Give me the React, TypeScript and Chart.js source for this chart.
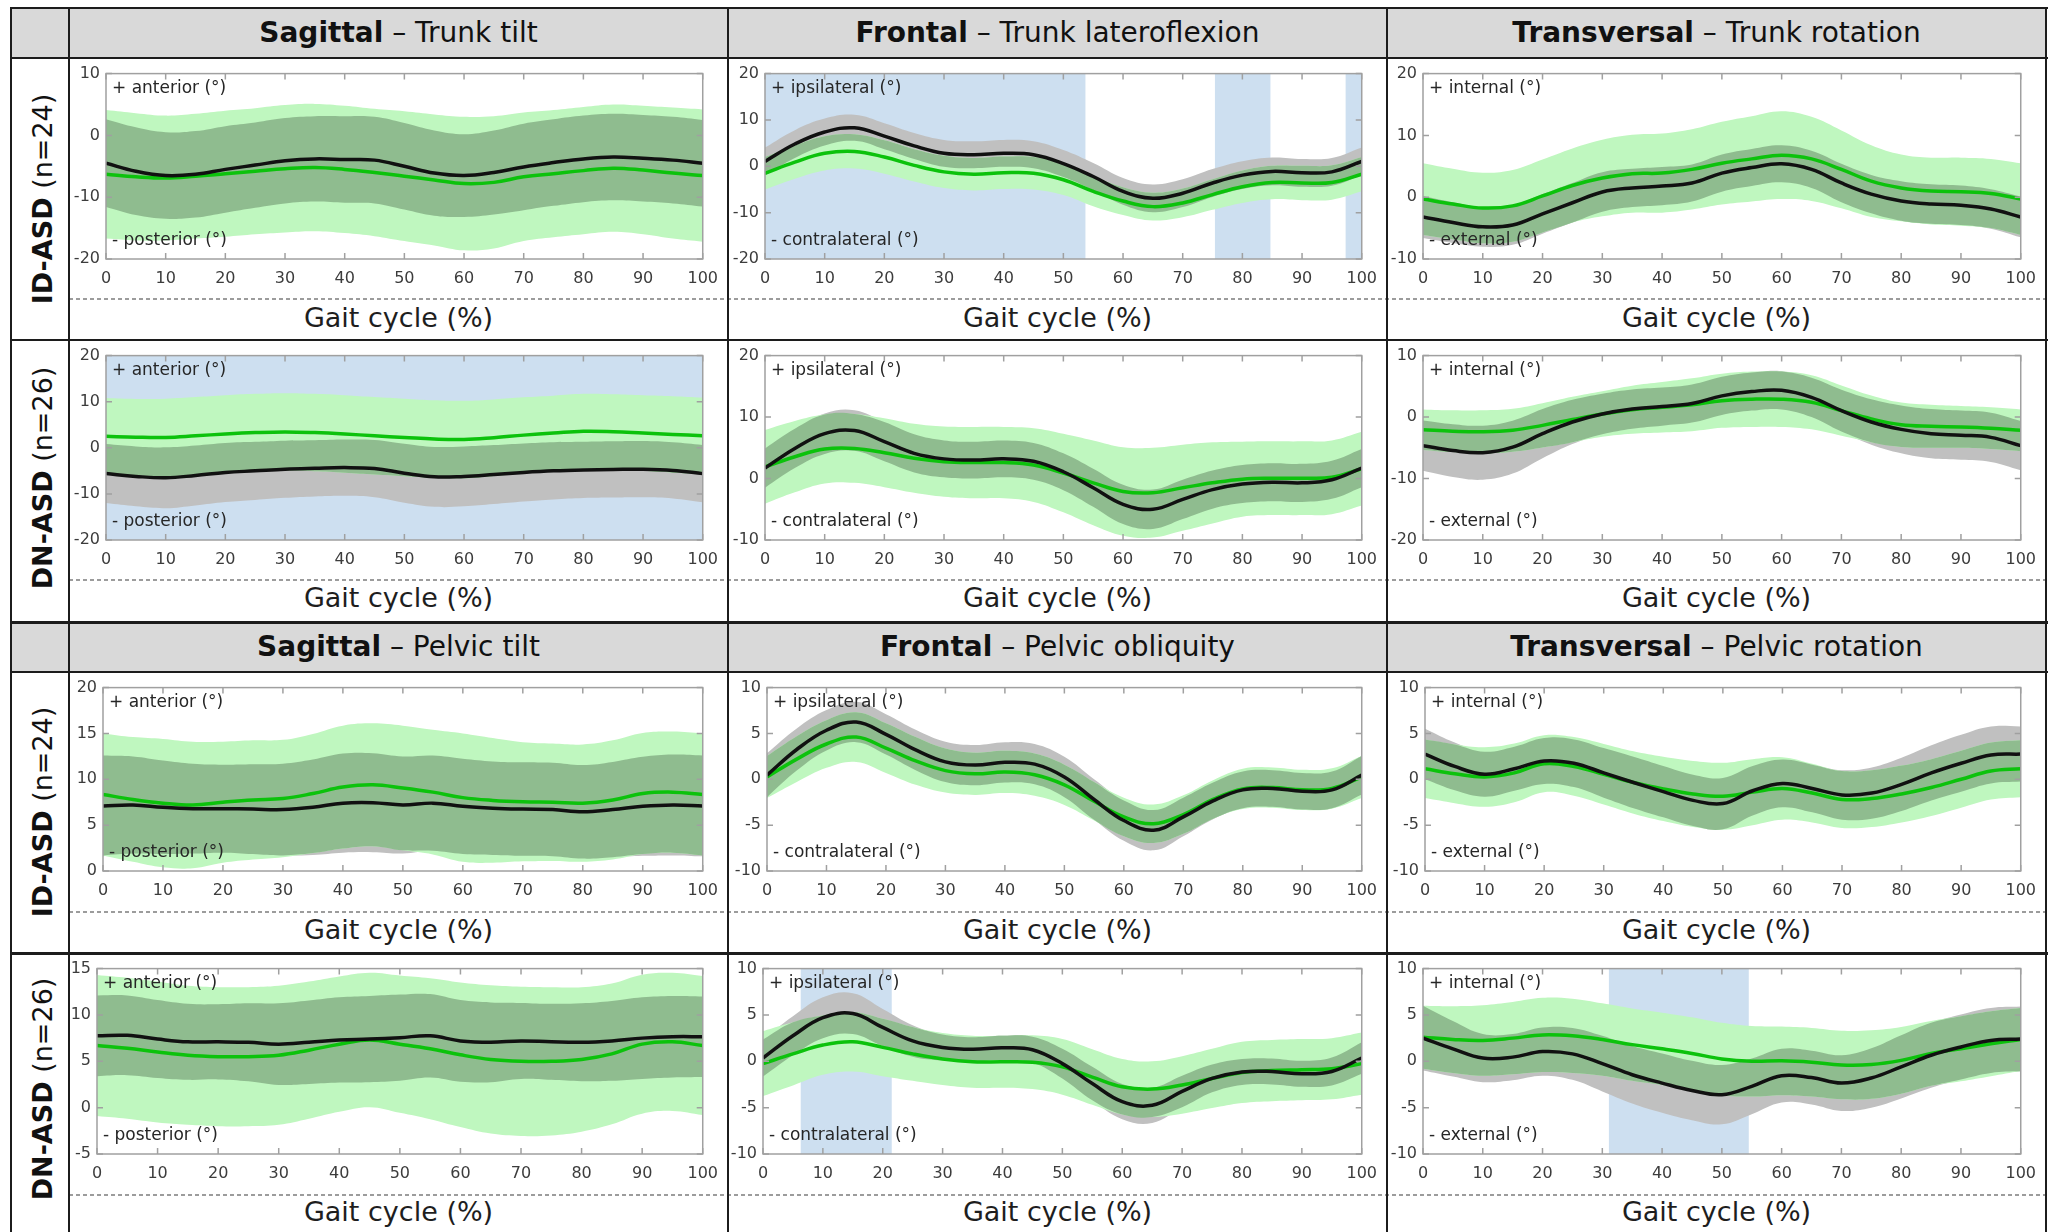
import React, { useEffect, useRef } from "react";
import { Chart, registerables } from "chart.js";

Chart.register(...registerables);

const FONT = '"DejaVu Sans", Verdana, sans-serif';

// ---------- DATA ----------
const gaitCycle = [0, 5, 10, 15, 20, 25, 30, 35, 40, 45, 50, 55, 60, 65, 70, 75, 80, 85, 90, 95, 100];

// Trunk tilt, ID-ASD
const trunkTiltID_green = [-6.3, -6.7, -6.9, -6.6, -6.2, -5.8, -5.4, -5.2, -5.5, -6.0, -6.6, -7.2, -7.8, -7.6, -6.7, -6.2, -5.7, -5.3, -5.6, -6.1, -6.5];
const trunkTiltID_greenSD = [10.4, 10.3, 10.1, 10.1, 10.2, 10.2, 10.3, 10.3, 10.3, 10.3, 10.5, 10.6, 10.8, 10.7, 10.4, 10.3, 10.3, 10.3, 10.4, 10.6, 10.7];
const trunkTiltID_black = [-4.5, -5.8, -6.5, -6.3, -5.5, -4.8, -4.1, -3.8, -3.9, -4.0, -5.0, -6.1, -6.5, -6.0, -5.1, -4.4, -3.8, -3.5, -3.7, -4.0, -4.5];
const trunkTiltID_blackSD = [7.1, 7.1, 7.0, 7.0, 7.0, 6.9, 6.9, 6.9, 7.0, 7.0, 7.0, 6.9, 6.7, 6.8, 7.0, 7.0, 7.0, 7.0, 7.0, 7.0, 7.0];

// Trunk lateroflexion, ID-ASD
const trunkLatID_green = [-1.5, 0.9, 2.8, 3.2, 2.0, 0.2, -1.2, -1.7, -1.4, -1.5, -2.9, -5.4, -7.5, -8.7, -7.9, -6.1, -4.4, -3.5, -3.6, -3.5, -1.7];
const trunkLatID_greenSD = [3.5, 3.6, 3.7, 3.7, 3.6, 3.5, 3.5, 3.5, 3.5, 3.5, 3.3, 3.2, 3.0, 3.0, 3.1, 3.3, 3.5, 3.6, 3.7, 3.7, 3.7];
const trunkLatID_black = [1.05, 4.8, 7.4, 8.3, 6.5, 4.4, 2.8, 2.5, 2.8, 2.5, 0.6, -2.2, -5.4, -6.9, -5.8, -3.6, -1.9, -1.1, -1.4, -1.2, 1.05];
const trunkLatID_blackSD = [3.0, 3.0, 2.9, 2.8, 2.8, 2.8, 2.9, 2.9, 2.9, 2.9, 2.9, 2.9, 2.9, 3.0, 3.0, 3.0, 3.0, 3.0, 3.0, 3.0, 3.0];
const trunkLatID_sig = [[0, 53.7], [75.4, 84.7], [97.3, 100]];

// Trunk rotation, ID-ASD
const trunkRotID_green = [-0.3, -1.1, -1.75, -1.4, 0.2, 1.9, 3.1, 3.8, 3.9, 4.5, 5.5, 6.2, 6.8, 6.2, 4.5, 2.6, 1.5, 1.0, 0.9, 0.6, -0.3];
const trunkRotID_greenSD = [5.8, 5.7, 5.7, 5.8, 5.9, 6.0, 6.2, 6.3, 6.4, 6.5, 6.7, 6.9, 7.1, 6.8, 6.3, 5.8, 5.4, 5.4, 5.5, 5.6, 5.8];
const trunkRotID_black = [-3.2, -4.1, -4.8, -4.5, -2.7, -0.9, 0.85, 1.5, 1.8, 2.3, 3.9, 4.8, 5.4, 4.5, 2.3, 0.5, -0.6, -1.1, -1.3, -1.9, -3.2];
const trunkRotID_blackSD = [3.4, 3.3, 3.2, 3.2, 3.2, 3.2, 3.2, 3.1, 3.1, 3.0, 3.0, 3.0, 3.0, 3.0, 3.1, 3.1, 3.2, 3.2, 3.2, 3.2, 3.3];

// Trunk tilt, DN-ASD
const trunkTiltDN_green = [2.5, 2.3, 2.25, 2.6, 3.0, 3.3, 3.45, 3.3, 3.0, 2.6, 2.25, 1.9, 1.8, 2.2, 2.75, 3.2, 3.6, 3.5, 3.2, 2.9, 2.6];
const trunkTiltDN_greenSD = [8.3, 8.3, 8.4, 8.4, 8.4, 8.4, 8.4, 8.4, 8.4, 8.4, 8.4, 8.4, 8.4, 8.3, 8.2, 8.1, 8.1, 8.1, 8.2, 8.3, 8.3];
const trunkTiltDN_black = [-5.6, -6.2, -6.5, -6.0, -5.35, -5.0, -4.65, -4.45, -4.3, -4.5, -5.5, -6.3, -6.2, -5.8, -5.35, -5.0, -4.8, -4.7, -4.65, -4.9, -5.6];
const trunkTiltDN_blackSD = [6.4, 6.5, 6.6, 6.5, 6.4, 6.3, 6.2, 6.1, 6.1, 6.2, 6.4, 6.5, 6.5, 6.4, 6.3, 6.2, 6.1, 6.1, 6.1, 6.1, 6.2];
const trunkTiltDN_sig = [[0, 100]];

// Trunk lateroflexion, DN-ASD
const trunkLatDN_green = [1.9, 3.55, 4.8, 4.9, 4.2, 3.3, 2.75, 2.6, 2.6, 2.2, 0.9, -0.7, -2.1, -2.3, -1.5, -0.7, -0.1, 0.05, 0.05, 0.2, 1.6];
const trunkLatDN_greenSD = [6.0, 5.8, 5.6, 5.6, 5.6, 5.6, 5.7, 5.8, 5.8, 6.0, 6.4, 6.9, 7.2, 7.3, 7.0, 6.6, 6.1, 6.0, 6.0, 6.0, 6.0];
const trunkLatDN_black = [1.7, 4.9, 7.3, 7.8, 6.0, 4.1, 3.2, 3.0, 3.2, 2.8, 1.1, -1.5, -4.2, -5.0, -3.4, -1.8, -0.9, -0.6, -0.7, -0.2, 1.7];
const trunkLatDN_blackSD = [3.2, 3.2, 3.3, 3.3, 3.2, 3.1, 3.0, 3.0, 3.0, 3.0, 3.0, 3.1, 3.2, 3.2, 3.2, 3.1, 3.1, 3.1, 3.1, 3.1, 3.1];

// Trunk rotation, DN-ASD
const trunkRotDN_green = [-2.05, -2.3, -2.4, -2.15, -1.35, -0.4, 0.5, 1.2, 1.6, 2.0, 2.65, 2.9, 2.9, 2.4, 1.05, -0.3, -1.25, -1.5, -1.6, -1.8, -2.15];
const trunkRotDN_greenSD = [3.3, 3.4, 3.5, 3.5, 3.6, 3.7, 3.7, 3.9, 4.1, 4.3, 4.4, 4.5, 4.5, 4.4, 4.1, 3.8, 3.6, 3.5, 3.4, 3.4, 3.4];
const trunkRotDN_black = [-4.65, -5.45, -5.8, -4.9, -2.7, -0.8, 0.5, 1.3, 1.7, 2.2, 3.45, 4.15, 4.35, 3.2, 1.05, -0.8, -2.0, -2.7, -2.95, -3.3, -4.65];
const trunkRotDN_blackSD = [4.1, 4.3, 4.4, 4.3, 4.0, 3.6, 3.3, 3.2, 3.1, 3.1, 3.1, 3.1, 3.1, 3.2, 3.4, 3.7, 3.9, 4.0, 4.0, 4.0, 4.0];

// Pelvic tilt, ID-ASD
const pelvTiltID_green = [8.35, 7.8, 7.4, 7.2, 7.5, 7.75, 7.9, 8.45, 9.15, 9.4, 9.05, 8.6, 8.0, 7.7, 7.55, 7.5, 7.4, 7.75, 8.45, 8.6, 8.35];
const pelvTiltID_greenSD = [6.65, 6.8, 7.0, 6.9, 6.6, 6.5, 6.4, 6.5, 6.7, 6.7, 6.8, 6.8, 7.0, 6.8, 6.5, 6.4, 6.4, 6.5, 6.6, 6.6, 6.65];
const pelvTiltID_black = [7.1, 7.2, 6.95, 6.8, 6.8, 6.75, 6.7, 6.95, 7.4, 7.45, 7.2, 7.4, 7.05, 6.85, 6.75, 6.7, 6.45, 6.7, 7.05, 7.2, 7.1];
const pelvTiltID_blackSD = [5.5, 5.3, 5.1, 4.9, 4.8, 4.9, 5.0, 5.2, 5.4, 5.4, 5.3, 5.2, 5.2, 5.1, 5.1, 5.1, 5.1, 5.2, 5.4, 5.5, 5.5];

// Pelvic obliquity, ID-ASD
const pelvOblID_green = [0.25, 2.2, 3.85, 4.6, 3.4, 2.0, 0.95, 0.6, 0.8, 0.5, -0.6, -2.4, -4.1, -4.85, -3.85, -2.2, -1.05, -0.9, -1.15, -1.0, 0.25];
const pelvOblID_greenSD = [2.3, 2.5, 2.6, 2.7, 2.7, 2.6, 2.4, 2.3, 2.3, 2.3, 2.2, 2.1, 2.1, 2.1, 2.1, 2.1, 2.2, 2.2, 2.2, 2.2, 2.3];
const pelvOblID_black = [0.45, 3.25, 5.35, 6.25, 4.9, 3.2, 1.9, 1.55, 1.85, 1.65, 0.25, -2.2, -4.5, -5.55, -4.1, -2.35, -1.15, -1.0, -1.3, -1.15, 0.45];
const pelvOblID_blackSD = [2.4, 2.3, 2.2, 2.2, 2.2, 2.2, 2.2, 2.2, 2.2, 2.2, 2.2, 2.2, 2.2, 2.2, 2.1, 2.0, 2.0, 2.0, 2.0, 2.0, 2.1];

// Pelvic rotation, ID-ASD
const pelvRotID_green = [1.15, 0.6, 0.25, 0.7, 1.7, 1.4, 0.55, -0.35, -1.05, -1.6, -1.85, -1.4, -1.0, -1.5, -2.2, -2.1, -1.6, -0.9, 0.0, 0.9, 1.15];
const pelvRotID_greenSD = [3.2, 3.2, 3.25, 3.2, 3.1, 3.2, 3.3, 3.4, 3.5, 3.6, 3.65, 3.6, 3.4, 3.2, 3.1, 3.1, 3.1, 3.1, 3.1, 3.1, 3.1];
const pelvRotID_black = [2.75, 1.4, 0.55, 1.15, 2.0, 1.75, 0.7, -0.35, -1.35, -2.3, -2.65, -1.25, -0.45, -1.0, -1.7, -1.5, -0.55, 0.7, 1.75, 2.65, 2.75];
const pelvRotID_blackSD = [2.75, 2.6, 2.45, 2.4, 2.5, 2.6, 2.7, 2.8, 2.8, 2.8, 2.8, 2.7, 2.6, 2.6, 2.7, 2.8, 2.9, 3.0, 3.1, 3.1, 3.0];

// Pelvic tilt, DN-ASD
const pelvTiltDN_green = [6.7, 6.4, 6.0, 5.65, 5.5, 5.5, 5.65, 6.2, 6.85, 7.3, 6.85, 6.35, 5.7, 5.2, 5.0, 5.0, 5.2, 5.8, 6.85, 7.1, 6.7];
const pelvTiltDN_greenSD = [7.6, 7.6, 7.6, 7.5, 7.5, 7.5, 7.5, 7.4, 7.3, 7.25, 7.4, 7.6, 7.8, 8.0, 8.05, 8.0, 7.8, 7.6, 7.5, 7.45, 7.5];
const pelvTiltDN_black = [7.75, 7.8, 7.4, 7.1, 7.1, 7.05, 6.85, 7.05, 7.3, 7.4, 7.55, 7.75, 7.2, 7.05, 7.2, 7.1, 7.05, 7.2, 7.5, 7.65, 7.65];
const pelvTiltDN_blackSD = [4.35, 4.3, 4.2, 4.1, 4.05, 4.2, 4.4, 4.5, 4.6, 4.65, 4.65, 4.5, 4.4, 4.3, 4.1, 4.1, 4.2, 4.3, 4.4, 4.4, 4.35];

// Pelvic obliquity, DN-ASD
const pelvOblDN_green = [-0.25, 0.8, 1.75, 2.1, 1.5, 0.8, 0.25, -0.05, -0.05, -0.1, -0.6, -1.7, -2.75, -3.0, -2.55, -1.85, -1.2, -1.0, -0.9, -0.8, -0.25];
const pelvOblDN_greenSD = [3.5, 3.4, 3.2, 3.2, 3.1, 2.9, 2.8, 2.8, 2.8, 2.9, 3.0, 3.0, 3.0, 3.0, 3.1, 3.2, 3.3, 3.3, 3.3, 3.3, 3.35];
const pelvOblDN_black = [0.35, 2.75, 4.7, 5.15, 3.65, 2.2, 1.5, 1.3, 1.45, 1.25, -0.25, -2.4, -4.35, -4.75, -3.25, -1.85, -1.15, -1.1, -1.35, -1.1, 0.35];
const pelvOblDN_blackSD = [2.0, 2.1, 2.2, 2.2, 2.0, 1.7, 1.4, 1.3, 1.3, 1.4, 1.6, 1.8, 1.9, 1.9, 1.7, 1.5, 1.4, 1.4, 1.4, 1.5, 1.7];
const pelvOblDN_sig = [[6.3, 21.5]];

// Pelvic rotation, DN-ASD
const pelvRotDN_green = [2.6, 2.35, 2.25, 2.5, 2.85, 2.75, 2.35, 1.8, 1.35, 0.85, 0.25, 0.0, 0.05, -0.1, -0.4, -0.35, 0.1, 0.85, 1.35, 1.9, 2.35];
const pelvRotDN_greenSD = [3.4, 3.6, 3.8, 3.9, 4.0, 4.0, 3.9, 3.9, 3.9, 3.9, 3.9, 3.8, 3.7, 3.7, 3.7, 3.7, 3.6, 3.5, 3.5, 3.5, 3.4];
const pelvRotDN_black = [2.5, 1.35, 0.35, 0.45, 1.05, 0.8, -0.25, -1.45, -2.35, -3.15, -3.6, -2.7, -1.55, -1.75, -2.35, -1.8, -0.6, 0.65, 1.55, 2.25, 2.4];
const pelvRotDN_blackSD = [3.5, 3.0, 2.6, 2.5, 2.6, 2.8, 3.0, 3.1, 3.2, 3.2, 3.2, 3.0, 2.9, 2.9, 3.0, 3.2, 3.4, 3.5, 3.5, 3.5, 3.5];
const pelvRotDN_sig = [[31.1, 54.5]];

// ---------- TEXT ----------
const trunkHeaders = [["Sagittal", "Trunk tilt"], ["Frontal", "Trunk lateroflexion"], ["Transversal", "Trunk rotation"]];
const pelvisHeaders = [["Sagittal", "Pelvic tilt"], ["Frontal", "Pelvic obliquity"], ["Transversal", "Pelvic rotation"]];
const rowGroups = [["ID-ASD", "(n=24)"], ["DN-ASD", "(n=26)"], ["ID-ASD", "(n=24)"], ["DN-ASD", "(n=26)"]];
const directionLabels = [
  ["+ anterior (°)", "- posterior (°)"],
  ["+ ipsilateral (°)", "- contralateral (°)"],
  ["+ internal (°)", "- external (°)"],
];
const xAxisTitle = "Gait cycle (%)";

// ---------- PANELS ----------
type PanelSpec = {
  green: number[]; greenSD: number[]; black: number[]; blackSD: number[];
  yMin: number; yMax: number; yStep: number; sig: number[][]; dir: number;
};

const panels: PanelSpec[] = [
  { green: trunkTiltID_green, greenSD: trunkTiltID_greenSD, black: trunkTiltID_black, blackSD: trunkTiltID_blackSD, yMin: -20, yMax: 10, yStep: 10, sig: [], dir: 0 },
  { green: trunkLatID_green, greenSD: trunkLatID_greenSD, black: trunkLatID_black, blackSD: trunkLatID_blackSD, yMin: -20, yMax: 20, yStep: 10, sig: trunkLatID_sig, dir: 1 },
  { green: trunkRotID_green, greenSD: trunkRotID_greenSD, black: trunkRotID_black, blackSD: trunkRotID_blackSD, yMin: -10, yMax: 20, yStep: 10, sig: [], dir: 2 },
  { green: trunkTiltDN_green, greenSD: trunkTiltDN_greenSD, black: trunkTiltDN_black, blackSD: trunkTiltDN_blackSD, yMin: -20, yMax: 20, yStep: 10, sig: trunkTiltDN_sig, dir: 0 },
  { green: trunkLatDN_green, greenSD: trunkLatDN_greenSD, black: trunkLatDN_black, blackSD: trunkLatDN_blackSD, yMin: -10, yMax: 20, yStep: 10, sig: [], dir: 1 },
  { green: trunkRotDN_green, greenSD: trunkRotDN_greenSD, black: trunkRotDN_black, blackSD: trunkRotDN_blackSD, yMin: -20, yMax: 10, yStep: 10, sig: [], dir: 2 },
  { green: pelvTiltID_green, greenSD: pelvTiltID_greenSD, black: pelvTiltID_black, blackSD: pelvTiltID_blackSD, yMin: 0, yMax: 20, yStep: 5, sig: [], dir: 0 },
  { green: pelvOblID_green, greenSD: pelvOblID_greenSD, black: pelvOblID_black, blackSD: pelvOblID_blackSD, yMin: -10, yMax: 10, yStep: 5, sig: [], dir: 1 },
  { green: pelvRotID_green, greenSD: pelvRotID_greenSD, black: pelvRotID_black, blackSD: pelvRotID_blackSD, yMin: -10, yMax: 10, yStep: 5, sig: [], dir: 2 },
  { green: pelvTiltDN_green, greenSD: pelvTiltDN_greenSD, black: pelvTiltDN_black, blackSD: pelvTiltDN_blackSD, yMin: -5, yMax: 15, yStep: 5, sig: [], dir: 0 },
  { green: pelvOblDN_green, greenSD: pelvOblDN_greenSD, black: pelvOblDN_black, blackSD: pelvOblDN_blackSD, yMin: -10, yMax: 10, yStep: 5, sig: pelvOblDN_sig, dir: 1 },
  { green: pelvRotDN_green, greenSD: pelvRotDN_greenSD, black: pelvRotDN_black, blackSD: pelvRotDN_blackSD, yMin: -10, yMax: 10, yStep: 5, sig: pelvRotDN_sig, dir: 2 },
];

// ---------- LAYOUT ----------
const COL_X = [69, 728, 1387, 2046];
const ROW_Y = [58, 340, 672, 953];
const CANVAS_H = 241;
const PLOT_BOXES = [
  [106, 710, 70, 259], [765, 1370, 70, 259], [1423, 2029, 70, 259],
  [106, 711, 352, 540], [765, 1368, 352, 540], [1423, 2028, 352, 540],
  [103, 709, 682, 871], [767, 1371, 682, 871], [1425, 2027, 682, 871],
  [97, 709, 965, 1154], [763, 1369, 965, 1154], [1423, 2029, 965, 1154],
];

const COLORS = {
  lightGreen: "#bff7bf",
  overlap: "#8fbc8f",
  gray: "#c0c0c0",
  greenLine: "#0cc20c",
  blackLine: "#111111",
  shade: "#cddff0",
  axis: "#a0a0a0",
  tickText: "#3c3c3c",
};

function PanelChart({ spec, left, top, width, height, box }: any) {
  const ref = useRef<HTMLCanvasElement>(null);
  useEffect(() => {
    const [pl, pr, pt, pb] = box;
    const yAxisW = pl - left;
    const padRight = left + width - pr;
    const padTop = pt - top;
    const xAxisH = top + height - pb;

    const gU = spec.green.map((v: number, i: number) => v + spec.greenSD[i]);
    const gL = spec.green.map((v: number, i: number) => v - spec.greenSD[i]);
    const kU = spec.black.map((v: number, i: number) => v + spec.blackSD[i]);
    const kL = spec.black.map((v: number, i: number) => v - spec.blackSD[i]);
    const iU = gU.map((v: number, i: number) => Math.min(v, kU[i]));
    const iL = gL.map((v: number, i: number) => Math.max(v, kL[i]));
    const iU2 = iU.map((v: number, i: number) => (v < iL[i] ? iL[i] : v));
    const pts = (arr: number[]) => arr.map((y, i) => ({ x: gaitCycle[i], y }));
    const band = (data: number[], color: string | null) => ({
      data: pts(data),
      borderColor: "rgba(0,0,0,0)",
      borderWidth: 0,
      pointRadius: 0,
      tension: 0.4,
      fill: color ? "+1" : false,
      backgroundColor: color || "rgba(0,0,0,0)",
    });

    const [posLabel, negLabel] = directionLabels[spec.dir];

    const deco = {
      id: "deco",
      beforeDatasetsDraw(chart: any) {
        const { ctx, chartArea, scales } = chart;
        ctx.save();
        ctx.fillStyle = COLORS.shade;
        for (const [a, b] of spec.sig) {
          const xa = scales.x.getPixelForValue(a);
          const xb = scales.x.getPixelForValue(b);
          ctx.fillRect(xa, chartArea.top, xb - xa, chartArea.bottom - chartArea.top);
        }
        ctx.restore();
      },
      afterDatasetsDraw(chart: any) {
        const { ctx, chartArea, scales } = chart;
        const { left: l, right: r, top: t, bottom: b } = chartArea;
        ctx.save();
        ctx.strokeStyle = COLORS.axis;
        ctx.lineWidth = 1.5;
        ctx.strokeRect(l, t, r - l, b - t);
        ctx.beginPath();
        const tl = 6;
        for (const tk of scales.x.ticks) {
          const px = scales.x.getPixelForValue(tk.value);
          ctx.moveTo(px, t); ctx.lineTo(px, t + tl);
          ctx.moveTo(px, b); ctx.lineTo(px, b - tl);
        }
        for (const tk of scales.y.ticks) {
          const py = scales.y.getPixelForValue(tk.value);
          ctx.moveTo(l, py); ctx.lineTo(l + tl, py);
          ctx.moveTo(r, py); ctx.lineTo(r - tl, py);
        }
        ctx.stroke();
        ctx.fillStyle = "#262626";
        ctx.font = `17px ${FONT}`;
        ctx.textBaseline = "middle";
        ctx.textAlign = "left";
        ctx.fillText(posLabel, l + 6, t + 15);
        ctx.fillText(negLabel, l + 6, b - 18);
        ctx.restore();
      },
    };

    const chart = new Chart(ref.current as HTMLCanvasElement, {
      type: "line",
      data: {
        datasets: [
          { data: pts(spec.black), borderColor: COLORS.blackLine, borderWidth: 3.5, pointRadius: 0, tension: 0.4, fill: false },
          { data: pts(spec.green), borderColor: COLORS.greenLine, borderWidth: 3.5, pointRadius: 0, tension: 0.4, fill: false },
          band(iU2, COLORS.overlap),
          band(iL, null),
          band(gU, COLORS.lightGreen),
          band(gL, null),
          band(kU, COLORS.gray),
          band(kL, null),
        ] as any,
      },
      options: {
        animation: false,
        responsive: false,
        maintainAspectRatio: false,
        events: [],
        layout: { padding: { left: 0, right: padRight, top: padTop, bottom: 0 } },
        plugins: { legend: { display: false }, tooltip: { enabled: false } },
        scales: {
          x: {
            type: "linear",
            min: 0,
            max: 100,
            afterFit: (s: any) => { s.height = xAxisH; },
            grid: { display: false, drawTicks: false },
            border: { display: false },
            ticks: { stepSize: 10, padding: 10, autoSkip: false, maxRotation: 0, color: COLORS.tickText, font: { family: FONT, size: 16 } },
          },
          y: {
            type: "linear",
            min: spec.yMin,
            max: spec.yMax,
            afterFit: (s: any) => { s.width = yAxisW; },
            grid: { display: false, drawTicks: false },
            border: { display: false },
            ticks: { stepSize: spec.yStep, padding: 6, color: COLORS.tickText, font: { family: FONT, size: 16 } },
          },
        },
      } as any,
      plugins: [deco],
    });
    return () => chart.destroy();
  }, []);
  return (
    <canvas
      ref={ref}
      width={width}
      height={height}
      style={{ position: "absolute", left, top, width, height }}
    />
  );
}

export default function App() {
  const lineColor = "#1c1c1c";
  const hLines = [
    { y: 8, w: 2 }, { y: 58, w: 2 }, { y: 340, w: 2 }, { y: 622, w: 3 }, { y: 672, w: 2 }, { y: 953, w: 3 },
  ];
  const vLines = [11, 69, 728, 1387, 2046];
  const dashY = [299, 580, 912, 1195];
  const gaitY = [318, 598, 930, 1212];
  const rowCenters = [199, 478, 812, 1089];

  return (
    <div style={{ position: "absolute", left: 0, top: 0, width: 2060, height: 1232, background: "#fff", overflow: "hidden", fontFamily: FONT, color: "#111" }}>
      {/* header bands */}
      <div style={{ position: "absolute", left: 11, top: 8, width: 2035, height: 50, background: "#d9d9d9" }} />
      <div style={{ position: "absolute", left: 11, top: 622, width: 2035, height: 50, background: "#d9d9d9" }} />

      {[trunkHeaders, pelvisHeaders].map((hdrs, hi) =>
        hdrs.map((h, ci) => (
          <div
            key={`h${hi}${ci}`}
            style={{
              position: "absolute",
              left: COL_X[ci],
              width: COL_X[ci + 1] - COL_X[ci],
              top: hi === 0 ? 8 : 622,
              height: 50,
              lineHeight: "50px",
              textAlign: "center",
              fontSize: 28,
              whiteSpace: "nowrap",
            }}
          >
            <b>{h[0]}</b> – {h[1]}
          </div>
        ))
      )}

      {rowGroups.map((g, ri) => (
        <div
          key={`r${ri}`}
          style={{
            position: "absolute",
            left: 43,
            top: rowCenters[ri],
            transform: "translate(-50%, -50%) rotate(-90deg)",
            whiteSpace: "nowrap",
            fontSize: 27,
            lineHeight: "32px",
          }}
        >
          <b>{g[0]}</b> {g[1]}
        </div>
      ))}

      {panels.map((p, i) => {
        const r = Math.floor(i / 3);
        const c = i % 3;
        return (
          <PanelChart
            key={`p${i}`}
            spec={p}
            left={COL_X[c]}
            top={ROW_Y[r]}
            width={COL_X[c + 1] - COL_X[c]}
            height={CANVAS_H}
            box={PLOT_BOXES[i]}
          />
        );
      })}

      {dashY.map((y, i) => (
        <div
          key={`d${i}`}
          style={{
            position: "absolute",
            left: 69,
            top: y - 1,
            width: 1977,
            height: 2,
            backgroundImage: "repeating-linear-gradient(to right, #9c9c9c 0 4px, rgba(0,0,0,0) 4px 7px)",
          }}
        />
      ))}

      {gaitY.map((y, ri) =>
        [0, 1, 2].map((ci) => (
          <div
            key={`g${ri}${ci}`}
            style={{
              position: "absolute",
              left: COL_X[ci],
              width: COL_X[ci + 1] - COL_X[ci],
              top: y - 17,
              height: 34,
              lineHeight: "34px",
              textAlign: "center",
              fontSize: 27,
              color: "#1e1e1e",
              whiteSpace: "nowrap",
            }}
          >
            {xAxisTitle}
          </div>
        ))
      )}

      {hLines.map((h, i) => (
        <div key={`hl${i}`} style={{ position: "absolute", left: 10, top: h.y - h.w / 2, width: 2038, height: h.w, background: lineColor }} />
      ))}
      {vLines.map((x, i) => (
        <div key={`vl${i}`} style={{ position: "absolute", left: x - 1, top: 7, width: 2, height: 1232, background: lineColor }} />
      ))}
    </div>
  );
}
